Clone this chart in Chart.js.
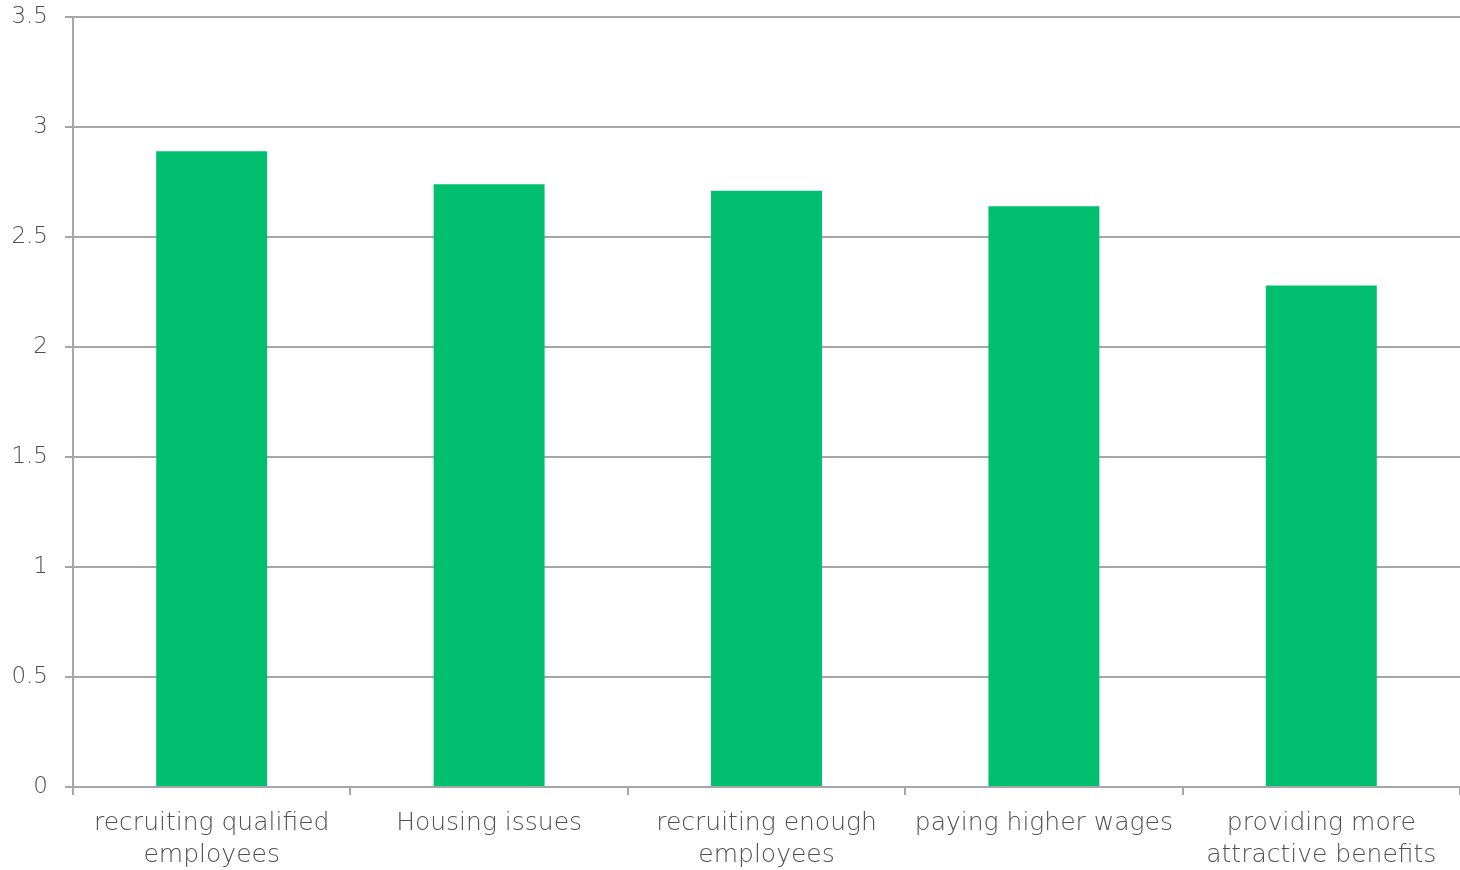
<!DOCTYPE html>
<html>
<head>
<meta charset="utf-8">
<script src="https://cdn.jsdelivr.net/npm/chart.js@4/dist/chart.umd.min.js"></script>
<style>
html,body{margin:0;padding:0;background:#fff;}
#wrap{width:1460px;height:870px;position:relative;}
</style>
</head>
<body>
<div id="wrap"><canvas id="c" width="1460" height="870"></canvas></div>
<script>
const categories = [
  ["recruiting qualified","employees"],
  ["Housing issues"],
  ["recruiting enough","employees"],
  ["paying higher wages"],
  ["providing more","attractive benefits"]
];
const values = [2.89, 2.74, 2.71, 2.64, 2.28];
const yTicks = [0, 0.5, 1, 1.5, 2, 2.5, 3, 3.5];

const textColor = '#524d55';
const gridColor = '#a6a6a6';
const fontFamily = "'DejaVu Sans', sans-serif";

new Chart(document.getElementById('c'), {
  type: 'bar',
  data: {
    labels: categories,
    datasets: [{
      data: values,
      backgroundColor: '#00bf6f',
      borderWidth: 0,
      barPercentage: 0.4,
      categoryPercentage: 1.0
    }]
  },
  options: {
    responsive: false,
    animation: false,
    devicePixelRatio: 1,
    layout: { padding: { top: 17, right: 0, left: 0, bottom: 0 } },
    plugins: { legend: { display: false }, tooltip: { enabled: false } },
    scales: {
      x: {
        offset: true,
        grid: { offset: true, drawOnChartArea: false, drawTicks: true, tickLength: 8, color: gridColor, lineWidth: 2 },
        border: { color: gridColor, width: 2 },
        ticks: { color: textColor, font: { family: fontFamily, size: 25, weight: 200, lineHeight: 1.28 }, padding: 12, maxRotation: 0, autoSkip: false },
        afterFit: (s) => { s.height = 83; }
      },
      y: {
        min: 0, max: 3.5,
        afterBuildTicks: (s) => { s.ticks = yTicks.map(v => ({ value: v })); },
        grid: { color: gridColor, lineWidth: 2, tickLength: 8, drawTicks: true },
        border: { color: gridColor, width: 2 },
        ticks: { color: textColor, font: { family: fontFamily, size: 23, weight: 200 }, padding: 17, callback: (v) => String(v) },
        afterFit: (s) => { s.width = 73; s.paddingTop = 0; s.paddingBottom = 0; }
      }
    }
  }
});
</script>
</body>
</html>
